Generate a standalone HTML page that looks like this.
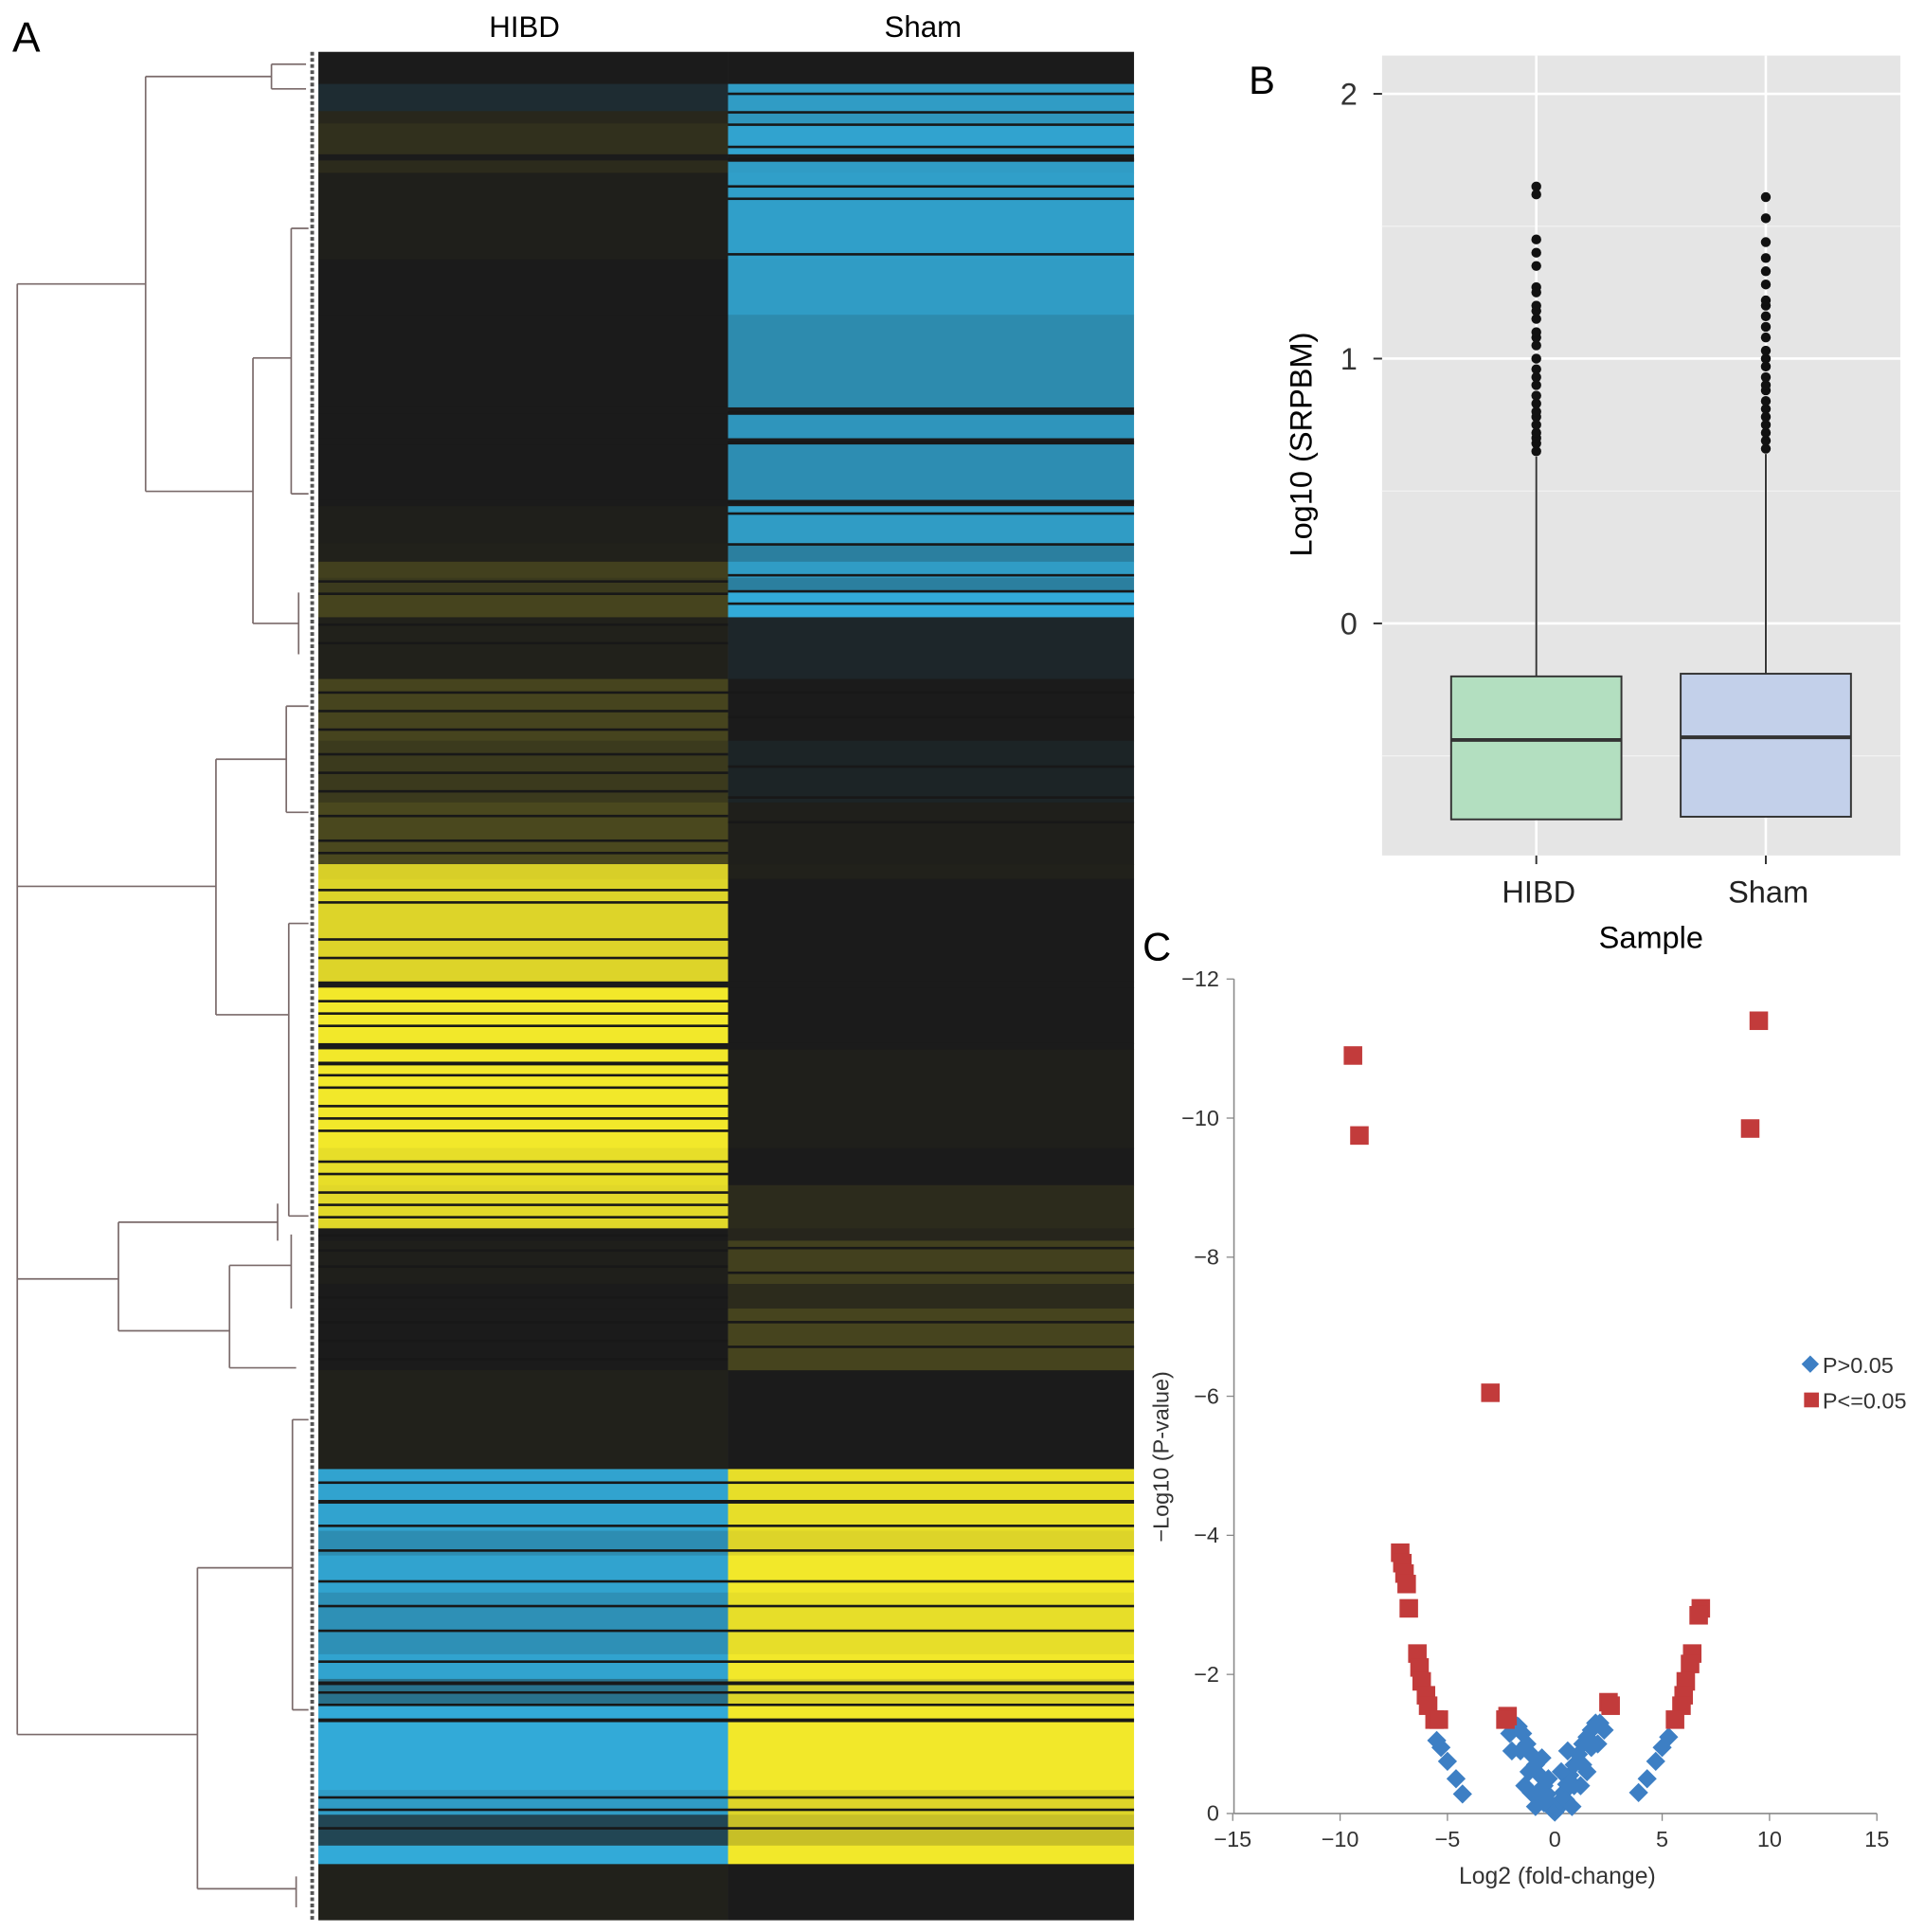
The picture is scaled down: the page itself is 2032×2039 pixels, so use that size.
<!DOCTYPE html>
<html><head><meta charset="utf-8"><style>
html,body{margin:0;padding:0;background:#fff;width:2032px;height:2039px;overflow:hidden}
svg{display:block}
text{font-family:"Liberation Sans",sans-serif}
</style></head><body>
<svg id="fig" width="2032" height="2039" viewBox="0 0 1560 1565" preserveAspectRatio="none" xmlns="http://www.w3.org/2000/svg">
<g id="panelA">
<text x="10" y="42" font-size="34">A</text>
<text x="425" y="30" font-size="24" text-anchor="middle">HIBD</text>
<text x="748" y="30" font-size="24" text-anchor="middle">Sham</text>
<g id="dendro"></g>
<g id="heat"></g>
</g>
<g id="panelB">
<text x="1012" y="76" font-size="32">B</text>
<rect x="1120" y="45" width="420" height="648" fill="#e5e5e5"/>
<g id="bgrid"></g>
<g id="boxes"></g>
<text x="1338" y="768" font-size="25" text-anchor="middle">Sample</text>
<text transform="translate(1063,360) rotate(-90)" font-size="25" text-anchor="middle">Log10 (SRPBM)</text>
</g>
<g id="panelC">
<text x="926" y="778" font-size="32">C</text>
<g id="vaxes"></g>
<g id="vpts"></g>
<text x="1262" y="1526" font-size="19" text-anchor="middle" fill="#333">Log2 (fold-change)</text>
<text transform="translate(947,1180) rotate(-90)" font-size="18" text-anchor="middle" fill="#333">−Log10 (P-value)</text>
<g>
<rect x="1462" y="1100" width="10" height="10" fill="#3d7fc4" transform="rotate(45 1467 1105)"/>
<text x="1477" y="1112" font-size="18" fill="#333">P&gt;0.05</text>
<rect x="1462" y="1128" width="12" height="12" fill="#c23b3b"/>
<text x="1477" y="1141" font-size="18" fill="#333">P&lt;=0.05</text>
</g>
</g>
</svg>
<script>
const NS="http://www.w3.org/2000/svg";
// Heatmap rows
const rowStart=[42,68,90,100,125,130,140,210,255,330,335,355,360,405,410,440,455,468,480,500,550,600,650,700,712,795,800,845,850,930,960,995,1005,1040,1060,1110,1190,1240,1260,1290,1340,1360,1380,1450,1470,1495,1510];
const rowEnd=[68,90,100,125,130,140,210,255,330,335,355,360,405,410,440,455,468,480,500,550,600,650,700,712,795,800,845,850,930,960,995,1005,1040,1060,1110,1190,1240,1260,1290,1340,1360,1380,1450,1470,1495,1510,1555];
const hibdVals=[0,-0.12,0.06,0.1,0,0.08,0.02,0,0,0,0,0,0,0,0.02,0.03,0.18,0.15,0.2,0.03,0.2,0.15,0.22,0.88,0.9,0,1,0,1,0.95,0.92,0,0.02,0,0,0.03,-0.95,-0.8,-0.95,-0.82,-0.95,-0.6,-1,-0.9,-0.3,-1,0.03];
const shamVals=[0,-0.9,-0.85,-0.95,0,-0.9,-0.92,-0.9,-0.78,0,-0.85,0,-0.8,0,-0.9,-0.7,-0.9,-0.7,-1,-0.08,0,-0.06,0.02,0.03,0,0,0,0,0.02,0,0.08,0.05,0.18,0.08,0.2,0,0.95,0.9,1,0.95,1,0.9,1,0.9,0.8,1,0];
// Thin dark stripes: y position, height, column (0 = HIBD, 1 = Sham)
const stripeY=[75,90,100,118,128,150,160,205,333,357,405,415,440,465,478,488,470,480,505,520,560,575,590,610,625,640,660,680,690,720,730,760,775,810,820,830,860,870,880,895,905,915,940,950,965,975,985,1000,1012,1025,1050,1070,1085,1100,1200,1215,1235,1255,1280,1300,1320,1345,1362,1370,1380,1392,1455,1465,1480,1200,1215,1235,1255,1280,1300,1320,1345,1362,1370,1380,1392,1455,1465,1480,1010,1030,1070,1090,560,580,620,645,665];
const stripeH=[2,2,2,2,3,2,2,2,3,3,3,2,2,2,2,2,2,2,2,2,2,2,2,2,2,2,2,2,2,2,2,2,2,2,2,2,3,2,2,2,2,2,2,2,2,2,2,2,2,2,2,2,2,2,2,3,2,2,2,2,2,2,3,2,2,3,2,2,2,2,3,2,2,2,2,2,2,3,2,2,3,2,2,2,2,2,2,2,2,2,2,2,2];
const stripeCol=[1,1,1,1,1,1,1,1,1,1,1,1,1,1,1,1,0,0,0,0,0,0,0,0,0,0,0,0,0,0,0,0,0,0,0,0,0,0,0,0,0,0,0,0,0,0,0,0,0,0,0,0,0,0,0,0,0,0,0,0,0,0,0,0,0,0,0,0,0,1,1,1,1,1,1,1,1,1,1,1,1,1,1,1,1,1,1,1,1,1,1,1,1];
// Dendrogram segments
const dendroSegs=[[14,230,14,1405],[14,230,118,230],[118,62,118,398],[118,62,220,62],[220,52,220,72],[220,52,248,52],[220,72,248,72],[118,398,205,398],[205,290,205,505],[205,290,236,290],[236,185,236,400],[236,185,250,185],[236,400,250,400],[205,505,242,505],[242,480,242,530],[14,718,175,718],[175,615,175,822],[175,615,232,615],[232,572,232,658],[232,572,250,572],[232,658,250,658],[175,822,234,822],[234,748,234,985],[234,748,250,748],[234,985,250,985],[14,1036,96,1036],[96,990,96,1078],[96,990,225,990],[225,975,225,1005],[96,1078,186,1078],[186,1025,186,1108],[186,1025,236,1025],[236,1000,236,1060],[186,1108,240,1108],[14,1405,160,1405],[160,1270,160,1530],[160,1270,237,1270],[237,1150,237,1385],[237,1150,250,1150],[237,1385,250,1385],[160,1530,240,1530],[240,1520,240,1545]];
// Boxplot data
const groups=["HIBD","Sham"];
const q1=[-0.74,-0.73];
const med=[-0.44,-0.43];
const q3=[-0.2,-0.19];
const whiskTop=[0.63,0.64];
const fills=["#b3dfc0","#c3d0ea"];
const outHIBD=[0.65,0.68,0.7,0.72,0.75,0.78,0.8,0.83,0.86,0.9,0.93,0.96,1.0,1.05,1.08,1.1,1.15,1.18,1.2,1.25,1.27,1.35,1.4,1.45,1.62,1.65];
const outSham=[0.66,0.69,0.72,0.75,0.78,0.81,0.84,0.88,0.9,0.93,0.97,1.0,1.03,1.08,1.12,1.16,1.2,1.22,1.28,1.33,1.38,1.44,1.53,1.61];
const bTicks=[2,1,0];
// Volcano data
const sigX=[-9.4,-9.1,9.5,9.1,-3,-7.2,-7.1,-7,-6.9,-6.8,-6.4,-6.3,-6.2,-6,-5.9,-5.6,-5.4,-2.2,-2.3,2.5,2.6,6.8,6.7,6.4,6.3,6.1,6,5.9,5.6];
const sigY=[10.9,9.75,11.4,9.85,6.05,3.75,3.6,3.45,3.3,2.95,2.3,2.1,1.9,1.7,1.55,1.35,1.35,1.4,1.35,1.6,1.55,2.95,2.85,2.3,2.15,1.9,1.7,1.55,1.35];
const nsX=[-4.3,-4.6,-5,-5.3,-5.5,3.9,4.3,4.7,5,5.3,-2.1,-1.9,-1.7,-1.5,-1.3,-1.1,-0.9,-0.7,-0.5,-0.35,-0.2,-0.1,0,0.1,0.25,0.4,0.55,0.7,0.9,1.1,1.3,1.5,1.7,1.9,2.1,2.3,-1.6,-1.2,-0.8,-0.5,0.5,0.9,1.3,1.7,-1.4,-0.9,0.8,1.2,-1.1,1.5,-2,2,-0.3,0.3,-0.6,0.6];
const nsY=[0.28,0.5,0.75,0.95,1.05,0.3,0.5,0.75,0.95,1.1,1.15,1.3,1.25,1.15,1.0,0.85,0.7,0.55,0.4,0.28,0.15,0.05,0.02,0.06,0.18,0.3,0.42,0.55,0.7,0.85,1.0,1.1,1.2,1.3,1.3,1.2,0.9,0.6,0.3,0.15,0.2,0.4,0.7,0.95,0.4,0.1,0.1,0.4,0.3,0.6,0.9,1.0,0.5,0.6,0.8,0.9];
const xTicks=[-15,-10,-5,0,5,10,15];
const yTicks=[0,2,4,6,8,10,12];

function mk(tag,attrs,parent){const e=document.createElementNS(NS,tag);for(const k in attrs)e.setAttribute(k,attrs[k]);parent.appendChild(e);return e;}
function lerp(a,b,t){return a.map((v,i)=>Math.round(v+(b[i]-v)*t));}
function heatColor(v){const blk=[27,27,27],yel=[242,232,42],cya=[50,170,216];const c=v>=0?lerp(blk,yel,v):lerp(blk,cya,-v);return `rgb(${c[0]},${c[1]},${c[2]})`;}

// Heatmap
const heat=document.getElementById('heat');
const hx0=258,hmid=590,hx1=919;
for(let i=0;i<rowStart.length;i++){
  let r=mk('rect',{x:hx0,y:rowStart[i],width:hmid-hx0,height:rowEnd[i]-rowStart[i]+0.5,fill:heatColor(hibdVals[i])},heat);
  
  
  r=mk('rect',{x:hmid,y:rowStart[i],width:hx1-hmid,height:rowEnd[i]-rowStart[i]+0.5,fill:heatColor(shamVals[i])},heat);
  
  
}
for(let i=0;i<stripeY.length;i++){
  const x=stripeCol[i]===0?hx0:hmid, w=stripeCol[i]===0?hmid-hx0:hx1-hmid;
  const s=mk('rect',{x:x,y:stripeY[i],width:w,height:stripeH[i],fill:'#181818'},heat);
  
  
}
// Dendrogram
const dg=document.getElementById('dendro');
dendroSegs.forEach(s=>{const l=mk('line',{x1:s[0],y1:s[1],x2:s[2],y2:s[3],stroke:'#7a6a6a','stroke-width':1.3},dg);
  
  });
const leaf=mk('line',{x1:253,y1:42,x2:253,y2:1555,stroke:'#555','stroke-width':3,'stroke-dasharray':'3 2'},dg);



// Boxplot
const by=v=>505-v*214.5;
const bcx=[1245,1431];
const bg=document.getElementById('bgrid');
[1.5,0.5,-0.5].forEach(v=>mk('line',{x1:1120,x2:1540,y1:by(v),y2:by(v),stroke:'#f2f2f2','stroke-width':1},bg));
bTicks.forEach(v=>{mk('line',{x1:1120,x2:1540,y1:by(v),y2:by(v),stroke:'#fff','stroke-width':2},bg);
  mk('line',{x1:1113,x2:1120,y1:by(v),y2:by(v),stroke:'#333','stroke-width':1.5},bg);
  const t=mk('text',{x:1100,y:by(v)+9,'font-size':25,'text-anchor':'end',fill:'#333'},bg);t.textContent=v;
  
  });
bcx.forEach(x=>{mk('line',{x1:x,x2:x,y1:45,y2:693,stroke:'#fff','stroke-width':2},bg);mk('line',{x1:x,x2:x,y1:693,y2:700,stroke:'#333','stroke-width':1.5},bg);});
const bx=document.getElementById('boxes');
const outs=[outHIBD,outSham];
groups.forEach((g,i)=>{
  const c=bcx[i];
  const w=mk('line',{x1:c,x2:c,y1:by(whiskTop[i]),y2:by(q3[i]),stroke:'#333','stroke-width':1.5},bx);
  
  
  const r=mk('rect',{x:c-69,y:by(q3[i]),width:138,height:by(q1[i])-by(q3[i]),fill:fills[i],stroke:'#333','stroke-width':1.5},bx);
  
  
  const m=mk('line',{x1:c-69,x2:c+69,y1:by(med[i]),y2:by(med[i]),stroke:'#333','stroke-width':3},bx);
  
  
  outs[i].forEach(v=>{const d=mk('circle',{cx:c,cy:by(v),r:4,fill:'#111'},bx);
    
    });
  const t=mk('text',{x:c+2,y:731,'font-size':25,'text-anchor':'middle',fill:'#222'},bx);t.textContent=g;
  
  
});

// Volcano
const vx=v=>1260+v*17.4;
const vy=v=>1469-v*56.33;
const va=document.getElementById('vaxes');
const xa=mk('line',{x1:1000,x2:1521,y1:1469,y2:1469,stroke:'#888','stroke-width':1.2},va);


const ya=mk('line',{x1:1000,x2:1000,y1:793,y2:1469,stroke:'#888','stroke-width':1.2},va);


xTicks.forEach(v=>{mk('line',{x1:vx(v),x2:vx(v),y1:1469,y2:1475,stroke:'#888'},va);
  const t=mk('text',{x:vx(v),y:1496,'font-size':18,'text-anchor':'middle',fill:'#333'},va);t.textContent=v<0?'−'+(-v):v;
  
  });
yTicks.forEach(v=>{mk('line',{x1:994,x2:1000,y1:vy(v),y2:vy(v),stroke:'#888'},va);
  const t=mk('text',{x:988,y:vy(v)+6,'font-size':18,'text-anchor':'end',fill:'#333'},va);t.textContent=v===0?'0':'−'+v;
  
  });
const vp=document.getElementById('vpts');
nsX.forEach((x,i)=>{const p=mk('rect',{x:vx(x)-5.5,y:vy(nsY[i])-5.5,width:11,height:11,fill:'#3d7fc4',transform:`rotate(45 ${vx(x)} ${vy(nsY[i])})`},vp);
  
  });
sigX.forEach((x,i)=>{const p=mk('rect',{x:vx(x)-7.5,y:vy(sigY[i])-7.5,width:15,height:15,fill:'#c23b3b'},vp);
  
  });
</script>
</body></html>
